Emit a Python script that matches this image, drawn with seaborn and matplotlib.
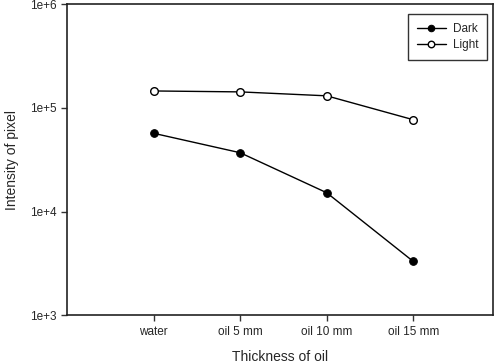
import seaborn as sns
import matplotlib.pyplot as plt
import numpy as np
import pandas as pd

categories = ['water', 'oil 5 mm', 'oil 10 mm', 'oil 15 mm']
dark = [5.7e4, 3.7e4, 1.52e4, 3.3e3]
light = [1.46e5, 1.43e5, 1.31e5, 7.7e4]

sns.set_style('ticks')
plt.rcParams['font.family'] = ['Liberation Sans', 'DejaVu Sans']

df = pd.DataFrame({'pos': np.arange(1, len(categories) + 1), 'Dark': dark, 'Light': light})

fig, ax = plt.subplots(figsize=(5.0, 3.64), dpi=100)
fig.subplots_adjust(left=0.134, right=0.986, top=0.988, bottom=0.134)

sns.lineplot(data=df, x='pos', y='Dark', ax=ax, color='black', lw=1, marker='o',
             markersize=5.5, markerfacecolor='black', markeredgecolor='black', label='Dark')
sns.lineplot(data=df, x='pos', y='Light', ax=ax, color='black', lw=1, marker='o',
             markersize=5.5, markerfacecolor='white', markeredgecolor='black', markeredgewidth=1,
             label='Light')

ax.set_yscale('log')
ax.set_ylim(1e3, 1e6)
ax.set_yticks([1e3, 1e4, 1e5, 1e6])
ax.set_yticklabels(['1e+3', '1e+4', '1e+5', '1e+6'])
ax.yaxis.set_minor_locator(plt.NullLocator())
ax.set_xlim(0, 4.92)
ax.set_xticks(df['pos'])
ax.set_xticklabels(categories)

ax.set_xlabel('Thickness of oil', fontsize=10, labelpad=9)
ax.set_ylabel('Intensity of pixel', fontsize=10, labelpad=8)
ax.tick_params(labelsize=8.5, length=4, width=1, color='#333333')
for s in ax.spines.values():
    s.set_visible(True)
    s.set_linewidth(1.2)
    s.set_color('#222222')

leg = ax.legend(loc='upper right', bbox_to_anchor=(0.986, 0.968), fontsize=8.5, frameon=True,
                fancybox=False, edgecolor='black', handlelength=2.4, borderpad=0.75,
                labelspacing=0.3, markerscale=0.85, handletextpad=0.6, borderaxespad=0)
leg.get_frame().set_linewidth(1)

fig.savefig('out.png', dpi=100)
